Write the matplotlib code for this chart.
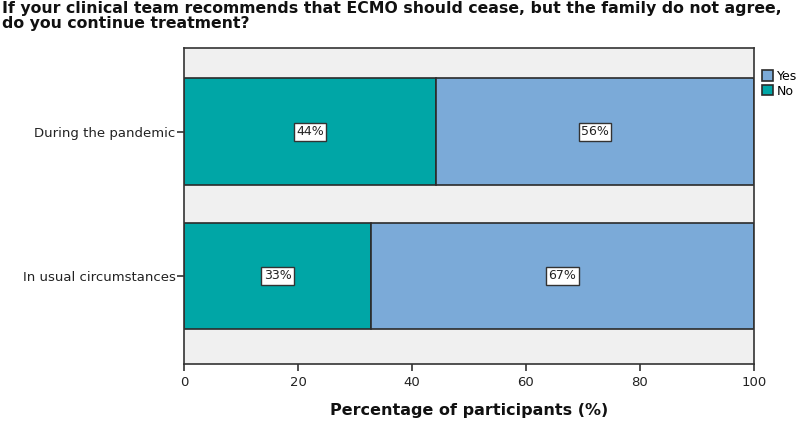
import matplotlib
matplotlib.use("Agg")
import matplotlib.pyplot as plt

categories = ["In usual circumstances", "During the pandemic"]
no_values = [32.8, 44.2]
yes_values = [67.2, 55.8]
series_names = ["Yes", "No"]
xticks = [0, 20, 40, 60, 80, 100]

col_yes = "#7BAAD8"
col_no = "#00A6A6"
edge = "#2b2b2b"

fig = plt.figure(figsize=(7.97, 4.24), dpi=100)
ax = fig.add_axes([184/797, 1-364/424, (754-184)/797, (364-48)/424])
ax.set_facecolor("#F0F0F0")

ypos = list(range(len(categories)))
h = 0.74
bn = ax.barh(ypos, no_values, height=h, color=col_no, edgecolor=edge, linewidth=1.2, label="No")
by = ax.barh(ypos, yes_values, left=no_values, height=h, color=col_yes, edgecolor=edge, linewidth=1.2, label="Yes")

box = dict(boxstyle="square,pad=0.2", fc="white", ec="#333333", lw=1)
for y, n, ys in zip(ypos, no_values, yes_values):
    ax.text(n/2, y, f"{n:.0f}%", ha="center", va="center", fontsize=9, color="#222222", bbox=box)
    ax.text(n + ys/2, y, f"{ys:.0f}%", ha="center", va="center", fontsize=9, color="#222222", bbox=box)

ax.set_xlim(0, 100)
ax.set_ylim(-0.61, 1.58)
ax.set_xticks(xticks)
ax.set_xticklabels([str(t) for t in xticks], fontsize=9.5, color="#222222")
ax.set_yticks(ypos)
ax.set_yticklabels(categories, fontsize=9.5, color="#222222")
ax.tick_params(axis="both", length=5, width=1.2, color="#333333")
ax.tick_params(axis="y", pad=1)
for s in ax.spines.values():
    s.set_color("#333333")
    s.set_linewidth(1.2)

ax.set_xlabel("Percentage of participants (%)", fontsize=11.5, fontweight="bold", color="#111111", labelpad=10)

fig.text(0.003, 0.998, "If your clinical team recommends that ECMO should cease, but the family do not agree,\ndo you continue treatment?",
         ha="left", va="top", fontsize=11.3, fontweight="bold", color="#111111", linespacing=1.0)

leg = ax.legend(handles=[by, bn], labels=series_names, loc="upper left", bbox_to_anchor=(1.0, 0.955),
                frameon=False, fontsize=9, handlelength=0.9, handleheight=0.9, handletextpad=0.3,
                borderaxespad=0.2, labelspacing=0.15)

fig.savefig("out.png", dpi=100)
